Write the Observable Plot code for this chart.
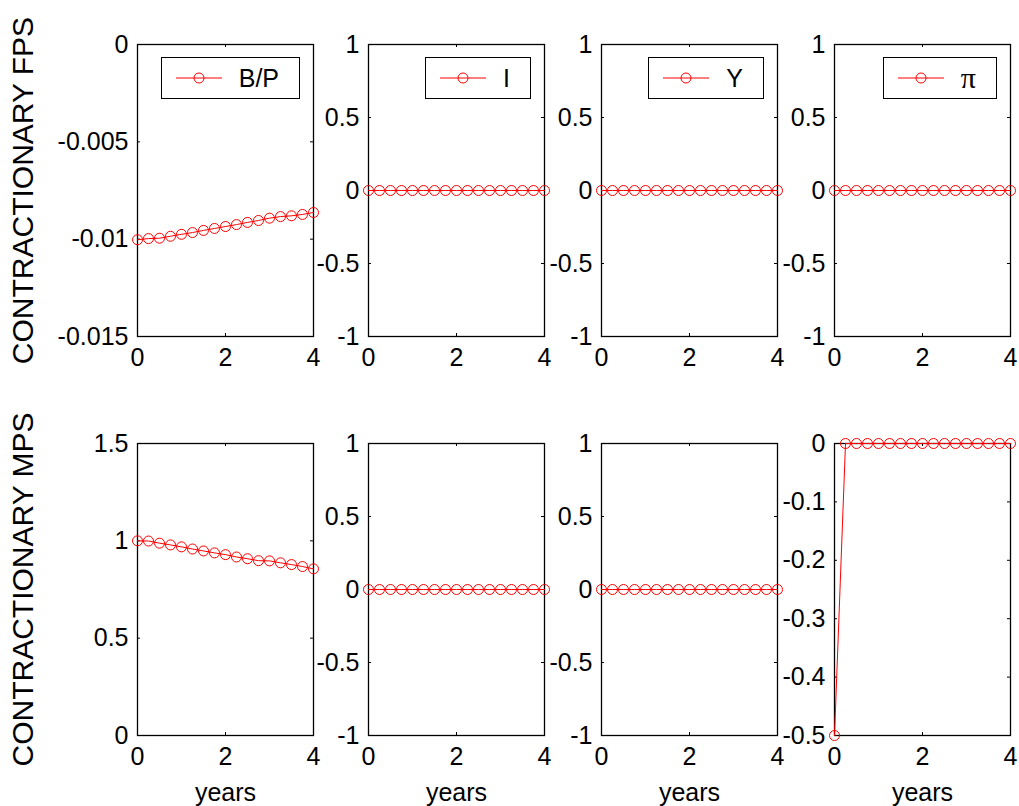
<!DOCTYPE html>
<html>
<head>
<meta charset="utf-8">
<script src="https://cdn.jsdelivr.net/npm/d3@7"></script>
<script src="https://cdn.jsdelivr.net/npm/@observablehq/plot@0.6"></script>
<style>
  html, body { margin: 0; padding: 0; background: #fff; }
  #chart { position: relative; width: 1019px; height: 806px; background: #fff; overflow: hidden;
           font-family: "Liberation Sans", Arial, Helvetica, sans-serif; }
  .panel { position: absolute; }
  .legend { position: absolute; box-sizing: border-box; height: 42px; border: 1.5px solid #000;
            background: #fff; display: flex; align-items: center; padding-left: 14px; padding-right: 20px;
            font-size: 25px; color: #000; }
  .legend svg { display: block; margin-right: 17px; }
  .legend .pi { font-family: "Liberation Serif", "DejaVu Serif", serif; font-size: 30px; line-height: 1; }
</style>
</head>
<body>
<div id="chart"></div>
<script>
// ---- data ----
const years = [0, 0.25, 0.5, 0.75, 1, 1.25, 1.5, 1.75, 2, 2.25, 2.5, 2.75, 3, 3.25, 3.5, 3.75, 4];
const xTicks = [0, 2, 4];

// Contractionary FPS (top row)
const bpFps = [-0.01003, -0.00997, -0.00995, -0.00985, -0.00975, -0.00966, -0.00955, -0.00945, -0.00935,
               -0.00925, -0.00914, -0.00904, -0.00892, -0.00884, -0.00880, -0.00873, -0.00863];
const iFps  = [0, 0, 0, 0, 0, 0, 0, 0, 0, 0, 0, 0, 0, 0, 0, 0, 0];
const yFps  = [0, 0, 0, 0, 0, 0, 0, 0, 0, 0, 0, 0, 0, 0, 0, 0, 0];
const piFps = [0, 0, 0, 0, 0, 0, 0, 0, 0, 0, 0, 0, 0, 0, 0, 0, 0];

// Contractionary MPS (bottom row)
const bpMps = [1.0, 0.999, 0.988, 0.979, 0.969, 0.958, 0.948, 0.938, 0.929,
               0.917, 0.908, 0.898, 0.897, 0.887, 0.878, 0.868, 0.856];
const iMps  = [0, 0, 0, 0, 0, 0, 0, 0, 0, 0, 0, 0, 0, 0, 0, 0, 0];
const yMps  = [0, 0, 0, 0, 0, 0, 0, 0, 0, 0, 0, 0, 0, 0, 0, 0, 0];
const piMps = [-0.5, 0, 0, 0, 0, 0, 0, 0, 0, 0, 0, 0, 0, 0, 0, 0, 0];

// y tick labels / domains
const ticksBpFps = [-0.015, -0.01, -0.005, 0];
const ticksUnit  = [-1, -0.5, 0, 0.5, 1];
const ticksBpMps = [0, 0.5, 1, 1.5];
const ticksPiMps = [-0.5, -0.4, -0.3, -0.2, -0.1, 0];

const legendNames = ["B/P", "I", "Y", "π"];
const rowLabels = ["CONTRACTIONARY FPS", "CONTRACTIONARY MPS"];
const xLabel = "years";

const panels = [
  {row: 0, col: 0, values: bpFps, domain: [-0.015, 0], ticks: ticksBpFps},
  {row: 0, col: 1, values: iFps,  domain: [-1, 1],     ticks: ticksUnit},
  {row: 0, col: 2, values: yFps,  domain: [-1, 1],     ticks: ticksUnit},
  {row: 0, col: 3, values: piFps, domain: [-1, 1],     ticks: ticksUnit},
  {row: 1, col: 0, values: bpMps, domain: [0, 1.5],    ticks: ticksBpMps},
  {row: 1, col: 1, values: iMps,  domain: [-1, 1],     ticks: ticksUnit},
  {row: 1, col: 2, values: yMps,  domain: [-1, 1],     ticks: ticksUnit},
  {row: 1, col: 3, values: piMps, domain: [-0.5, 0],   ticks: ticksPiMps}
];

// ---- layout (pixels) ----
const colLeft = [137, 368, 601, 834];
const rowTop = [44, 443];
const plotW = 176, plotH = 292;
const FONT = "Liberation Sans, Arial, Helvetica, sans-serif";
const chart = document.getElementById("chart");

for (const p of panels) {
  const mL = p.col === 0 ? colLeft[0] : 90;
  const mT = 15, mR = 15, mB = p.row === 1 ? 75 : 45;
  const data = years.map((t, i) => ({t, v: p.values[i]}));
  const marks = [
    Plot.frame({stroke: "black", strokeWidth: 1.3}),
    // inward ticks on all four sides
    Plot.tickY(p.ticks, {y: d => d, stroke: "black", insetRight: plotW - 3}),
    Plot.tickY(p.ticks, {y: d => d, stroke: "black", insetLeft: plotW - 3}),
    Plot.tickX(xTicks, {x: d => d, stroke: "black", insetTop: plotH - 3}),
    Plot.tickX(xTicks, {x: d => d, stroke: "black", insetBottom: plotH - 3}),
    Plot.axisY({ticks: p.ticks, tickSize: 0, tickPadding: 9, fontSize: 25, tickFormat: d => String(d), label: null}),
    Plot.axisX({ticks: xTicks, tickSize: 0, tickPadding: 12, fontSize: 25, tickFormat: d => String(d), label: null}),
    Plot.line(data, {x: "t", y: "v", stroke: "red", strokeWidth: 1}),
    Plot.dot(data, {x: "t", y: "v", r: 5, stroke: "red", strokeWidth: 1, fill: "none"})
  ];
  if (p.col === 0) {
    marks.push(Plot.text([rowLabels[p.row]], {text: d => d, frameAnchor: "left", rotate: -90,
      dx: -114, fontSize: 30, fill: "black", textAnchor: "middle", lineAnchor: "middle"}));
  }
  if (p.row === 1) {
    marks.push(Plot.text([xLabel], {text: d => d, frameAnchor: "bottom", dy: 65,
      fontSize: 25, fill: "black", lineAnchor: "bottom"}));
  }
  const svg = Plot.plot({
    width: mL + plotW + mR,
    height: mT + plotH + mB,
    marginLeft: mL, marginRight: mR, marginTop: mT, marginBottom: mB,
    x: {domain: [0, 4], axis: null},
    y: {domain: p.domain, axis: null},
    style: {fontFamily: FONT, background: "transparent", color: "black", overflow: "visible"},
    marks
  });
  svg.classList.add("panel");
  svg.style.left = (colLeft[p.col] - mL) + "px";
  svg.style.top = (rowTop[p.row] - mT) + "px";
  chart.appendChild(svg);

  if (p.row === 0) {
    const lg = document.createElement("div");
    lg.className = "legend";
    lg.style.top = "57px";
    lg.style.right = (1019 - (colLeft[p.col] + plotW - 13)) + "px";
    const ns = "http://www.w3.org/2000/svg";
    const s = document.createElementNS(ns, "svg");
    s.setAttribute("width", 46); s.setAttribute("height", 14);
    const ln = document.createElementNS(ns, "line");
    ln.setAttribute("x1", 0); ln.setAttribute("x2", 46); ln.setAttribute("y1", 7); ln.setAttribute("y2", 7);
    ln.setAttribute("stroke", "red"); ln.setAttribute("stroke-width", 1);
    const c = document.createElementNS(ns, "circle");
    c.setAttribute("cx", 23); c.setAttribute("cy", 7); c.setAttribute("r", 5);
    c.setAttribute("fill", "none"); c.setAttribute("stroke", "red");
    s.appendChild(ln); s.appendChild(c);
    lg.appendChild(s);
    const tx = document.createElement("span");
    tx.textContent = legendNames[p.col];
    if (p.col === 3) tx.className = "pi";
    lg.appendChild(tx);
    chart.appendChild(lg);
  }
}
</script>
</body>
</html>
